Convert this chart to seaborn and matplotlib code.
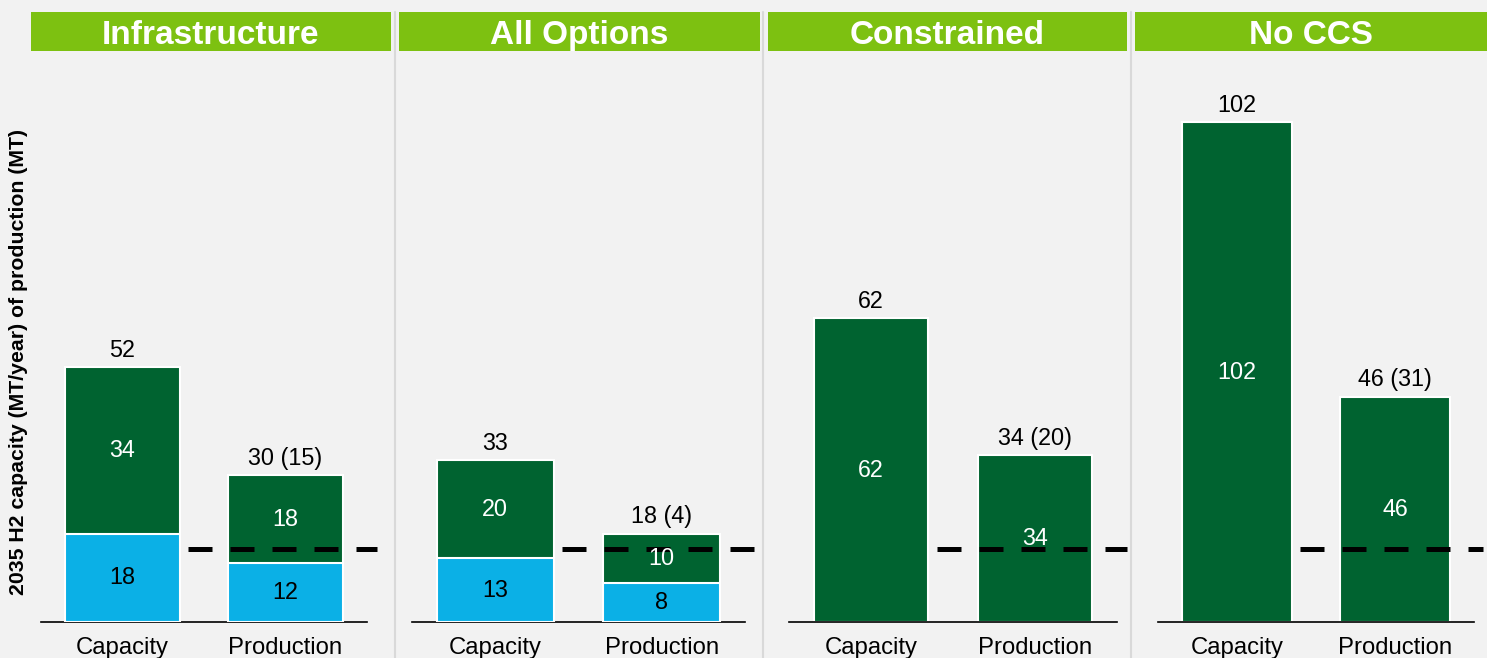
import matplotlib
matplotlib.use("Agg")
import matplotlib.pyplot as plt
import seaborn as sns
import pandas as pd
from matplotlib.patches import Rectangle
from matplotlib.lines import Line2D

# ---- data ----
scenarios = ["Infrastructure", "All Options", "Constrained", "No CCS"]
categories = ["Capacity", "Production"]
blue_vals = [[18, 12], [13, 8], [0, 0], [0, 0]]
green_vals = [[34, 18], [20, 10], [62, 34], [102, 46]]
paren_vals = [[None, 15], [None, 4], [None, 20], [None, 31]]
threshold = 15

# ---- style ----
BG = "#f2f2f2"
BLUE = "#0bb0e6"
GREEN = "#006330"
BANNER = "#7dc111"
SEP = "#d9d9d9"

sns.set_theme(style="white")
plt.rcParams["font.family"] = ["Liberation Sans", "DejaVu Sans"]

W, H = 1487, 658
fig = plt.figure(figsize=(W / 100, H / 100), dpi=100)
fig.patch.set_facecolor(BG)

panel_px = [(41, 367), (412, 745), (789, 1117), (1158, 1474)]
banner_px = [(31, 391), (399, 760), (768, 1127), (1135, 1487)]
sep_px = [395, 763, 1131]
base_px, top_px = 622, 100
px_per_unit = 4.9

for i, name in enumerate(scenarios):
    x0, x1 = panel_px[i]
    ax = fig.add_axes([x0 / W, (H - base_px) / H, (x1 - x0) / W, (base_px - top_px) / H])
    ax.set_facecolor(BG)
    b = blue_vals[i]
    g = green_vals[i]
    tot = [bb + gg for bb, gg in zip(b, g)]
    df = pd.DataFrame({"cat": categories, "blue": b, "total": tot})
    sns.barplot(data=df, x="cat", y="total", color=GREEN, saturation=1, width=0.7,
                edgecolor="white", linewidth=1.5, ax=ax, zorder=2)
    dfb = df[df["blue"] > 0]
    if len(dfb):
        sns.barplot(data=dfb, x="cat", y="blue", color=BLUE, saturation=1, width=0.7,
                    edgecolor="white", linewidth=1.5, ax=ax, zorder=3, order=categories)
    ax.set_xlim(-0.5, 1.5)
    ax.set_ylim(0, (base_px - top_px) / px_per_unit)
    ax.set_xlabel("")
    ax.set_ylabel("")
    ax.set_yticks([])
    for s in ["left", "right", "top"]:
        ax.spines[s].set_visible(False)
    ax.spines["bottom"].set_color("black")
    ax.spines["bottom"].set_linewidth(1.2)
    ax.tick_params(axis="x", length=0, pad=11, labelsize=17.2, colors="black")

    for j in range(2):
        # total label
        lab = f"{tot[j]}"
        if paren_vals[i][j] is not None:
            lab += f" ({paren_vals[i][j]})"
        ax.annotate(lab, (j, tot[j]), xytext=(0, 7.5), textcoords="offset points",
                    ha="center", va="baseline", fontsize=16.8, color="black")
        # segment labels
        if b[j] > 0:
            ax.text(j, b[j] / 2, f"{b[j]}", ha="center", va="center", fontsize=16.8,
                    color="black", zorder=5)
        ax.text(j, b[j] + g[j] / 2, f"{g[j]}", ha="center", va="center", fontsize=16.8,
                color="white", zorder=5)

    # threshold dashed line
    ax.plot([0.40, 1.56], [threshold, threshold], color="black", lw=3.6,
            linestyle=(0, (4.8, 3.6)), dash_capstyle="butt", clip_on=False, zorder=4)

    # banner
    bx0, bx1 = banner_px[i]
    fig.patches.append(Rectangle((bx0 / W, 1 - 51 / H), (bx1 - bx0) / W, 39 / H,
                                 transform=fig.transFigure, facecolor=BANNER,
                                 edgecolor="none", zorder=1))
    fig.text((bx0 + bx1) / 2 / W, 1 - 44 / H, name, ha="center", va="baseline",
             fontsize=24, fontweight="bold", color="white", zorder=2)

for sx in sep_px:
    fig.add_artist(Line2D([sx / W, sx / W], [0, 1 - 12 / H], transform=fig.transFigure,
                          color=SEP, lw=1.5, zorder=0))

fig.text(19 / W, 1 - 362 / H, "2035 H2 capacity (MT/year) of production (MT)",
         rotation=90, ha="center", va="center", fontsize=15.3, fontweight="bold",
         color="black")

fig.savefig("out.png", dpi=100, facecolor=BG)
